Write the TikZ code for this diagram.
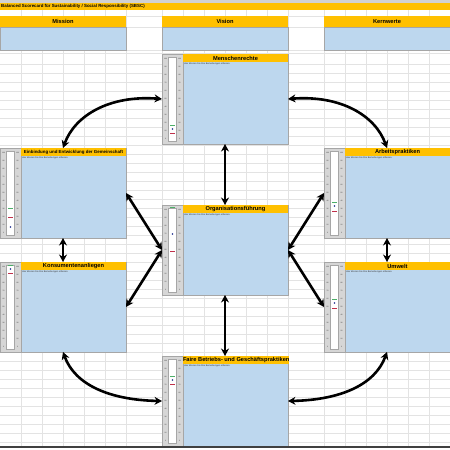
\documentclass[tikz,border=0pt]{standalone}
\usepackage{fontspec}
\setmainfont{Liberation Sans}
\usetikzlibrary{arrows.meta,calc}

\definecolor{xlyellow}{HTML}{FFC000}
\definecolor{xlblue}{HTML}{BDD7EE}
\definecolor{xlgrid}{HTML}{E3E3E3}
\definecolor{xlgauge}{HTML}{D6D6D6}
\definecolor{xlframe}{HTML}{A6A6A6}
\definecolor{mgreen}{HTML}{4CAF68}
\definecolor{mred}{HTML}{C0304A}
\definecolor{mblue}{HTML}{1F2F8F}

\newcommand{\hdfont}{\fontsize{5.7}{6}\selectfont\bfseries}
\newcommand{\hdfontsmall}{\fontsize{4.4}{5}\selectfont\bfseries}

\tikzset{
  blockframe/.style={draw=xlframe, line width=0.6pt, inner sep=0pt, outer sep=0pt, minimum width=126pt, minimum height=90pt},
  gaugebox/.style={draw=xlframe, fill=xlgauge, line width=0.4pt, inner sep=0pt, outer sep=0pt, minimum width=21pt, minimum height=90pt},
  gaugecol/.style={draw=xlframe, fill=white, line width=0.3pt, inner sep=0pt, outer sep=0pt, minimum width=8pt, minimum height=84pt},
  bodybox/.style={draw=xlframe, fill=xlblue, line width=0.4pt, inner sep=0pt, outer sep=0pt, minimum width=105pt, minimum height=90pt},
  headbox/.style={fill=xlyellow, inner sep=0pt, outer sep=0pt, minimum width=105pt, minimum height=8pt, text=black},
  tophead/.style={fill=xlyellow, inner sep=0pt, outer sep=0pt, minimum width=126pt, minimum height=11pt, font=\hdfont},
  topbody/.style={draw=xlframe, fill=xlblue, line width=0.4pt, inner sep=0pt, outer sep=0pt, minimum width=126pt, minimum height=23pt},
  notetext/.style={inner sep=0pt, font=\fontsize{2.3}{2.6}\selectfont, text=black!80},
  ticktext/.style={inner sep=0pt, font=\fontsize{1.7}{2}\selectfont, text=black!85},
  gridline/.style={draw=xlgrid, line width=0.4pt},
  biarrow/.style={line width=2.6pt, black, {Stealth[length=7.5pt,width=8pt]}-{Stealth[length=7.5pt,width=8pt]}},
  mdash/.style={line width=0.9pt},
}

% #1 name, #2 x, #3 y, #4 title, #5 title font, #6 green y, #7 blue y, #8 red y
\newcommand{\sbblock}[8]{%
  \node[blockframe, anchor=north west] (#1) at (#2,#3) {};
  \node[gaugebox, anchor=north west] (#1g) at (#2,#3) {};
  \node[gaugecol, anchor=north] (#1c) at ($(#2,#3)+(10.5,3)$) {};
  \foreach \i [evaluate=\i as \v using {int(100-10*\i)}] in {0,...,10} {
    \node[ticktext] at ($(#2,#3)+(3.6,5+8*\i)$) {\v};
    \node[ticktext] at ($(#2,#3)+(17.6,5+8*\i)$) {\v};
  }
  \draw[mdash, mgreen] ($(#2,#3)+(8,#6)$) -- ($(#2,#3)+(13,#6)$);
  \fill[mblue] ($(#2,#3)+(10.5,#7)$) circle[radius=0.9pt];
  \draw[mdash, mred] ($(#2,#3)+(8,#8)$) -- ($(#2,#3)+(13,#8)$);
  \node[bodybox, anchor=north west] (#1b) at ($(#2,#3)+(21,0)$) {};
  \node[headbox, anchor=north west, font=#5] (#1h) at ($(#2,#3)+(21,0)$) {#4};
  \node[notetext, anchor=north west] (#1n) at ($(#1h.south west)+(1,1)$) {Hier können Sie Ihre Bemerkungen erfassen.};
}

\begin{document}
\begin{tikzpicture}[x=1pt,y=-1pt]
\useasboundingbox (0,0) rectangle (450,450);
\fill[white] (0,0) rectangle (450,450);

% spreadsheet grid
\foreach \x in {21,42,...,126,162,183,...,288,324,345,...,450}
  \draw[gridline] (\x,10) -- (\x,446);
\foreach \y in {16,27,50,53,64,73,...,445}
  \draw[gridline] (0,\y) -- (450,\y);

% title bar
\fill[black!18] (0,0) rectangle (450,3);
\node[fill=xlyellow, inner sep=0pt, outer sep=0pt, minimum width=450pt, minimum height=7pt, anchor=north west] (titlebar) at (0,3) {};
\node[inner sep=0pt, anchor=west, font=\fontsize{4.4}{5}\selectfont\bfseries] (title) at (1,6.6)
  {Balanced Scorecard für Sustainability / Social Responsibility (SBSC)};

% top sections
\node[topbody, anchor=north west] (missionb) at (0,27) {};
\node[tophead, anchor=north west] (mission) at (0,16) {Mission};
\node[topbody, anchor=north west] (visionb) at (162,27) {};
\node[tophead, anchor=north west] (vision) at (162,16) {Vision};
\node[topbody, anchor=north west] (kernb) at (324,27) {};
\node[tophead, anchor=north west] (kern) at (324,16) {Kernwerte};

% blocks
\sbblock{mr}{162}{54}{Menschenrechte}{\hdfont}{71}{75}{79}
\sbblock{eb}{0}{148}{Einbindung und Entwicklung der Gemeinschaft}{\hdfontsmall}{60}{79}{69}
\sbblock{ap}{324}{148}{Arbeitspraktiken}{\hdfont}{54}{58}{63}
\sbblock{org}{162}{205}{Organisationsführung}{\hdfont}{2}{29}{46}
\sbblock{ka}{0}{262}{Konsumentenanliegen}{\hdfont}{3}{7}{11}
\sbblock{um}{324}{262}{Umwelt}{\hdfont}{37}{41}{46}
\sbblock{fb}{162}{356}{Faire Betriebs- und Geschäftspraktiken}{\hdfont}{20}{24}{28}

% bottom edge
\draw[line width=1.2pt, black!75] (0,447) -- (450,447);

% connectors
\draw[biarrow] (mr.west) .. controls (110,95) and (75,115) .. (eb.north);
\draw[biarrow] (mr.east) .. controls (340,95) and (375,115) .. (ap.north);
\draw[biarrow] (mr.south) -- (org.north);
\draw[biarrow] (eb.south) -- (ka.north);
\draw[biarrow] (ap.south) -- (um.north);
\draw[biarrow] (eb.east) -- (org.west);
\draw[biarrow] (ka.east) -- (org.west);
\draw[biarrow] (ap.west) -- (org.east);
\draw[biarrow] (um.west) -- (org.east);
\draw[biarrow] (org.south) -- (fb.north);
\draw[biarrow] (ka.south) .. controls (75,385) and (110,400) .. (fb.west);
\draw[biarrow] (um.south) .. controls (375,385) and (340,400) .. (fb.east);
\end{tikzpicture}
\end{document}
